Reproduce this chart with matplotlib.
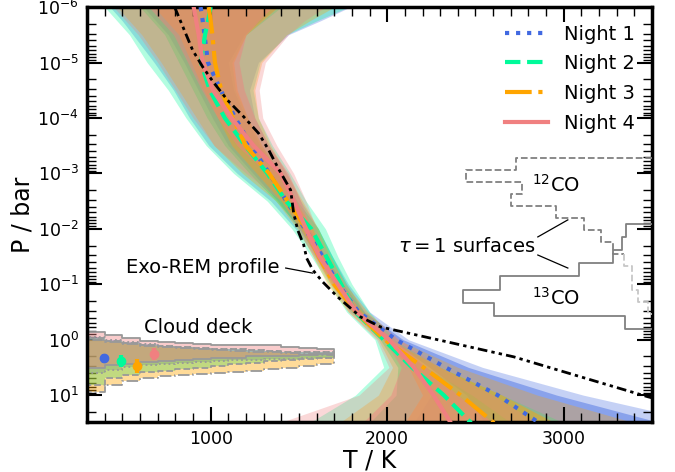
import numpy as np
import matplotlib
matplotlib.use("Agg")
import matplotlib.pyplot as plt
from matplotlib.ticker import MultipleLocator, LogLocator, NullFormatter

# ---------------------------------------------------------------------------
# Retrieved temperature-pressure profiles (T in K on a common pressure grid)
# ---------------------------------------------------------------------------
pressure = [1e-6, 1.78e-6, 3.16e-6, 1e-5, 3.16e-5, 1e-4, 3.16e-4, 1e-3, 3.16e-3,
            1e-2, 3.16e-2, 0.1, 0.316, 1.0, 3.16, 10.0, 31.6]

night_labels = ["Night 1", "Night 2", "Night 3", "Night 4"]
night_colors = ["royalblue", "mediumspringgreen", "orange", "lightcoral"]
night_styles = [":", "--", "-.", "-"]

# medians
t_med_n1 = [943, 955, 965, 985, 1057, 1140, 1228, 1332, 1429, 1534, 1634, 1723, 1838, 2050, 2330, 2625, 2860]
t_med_n2 = [1000, 985, 968, 945, 995, 1080, 1195, 1321, 1427, 1570, 1655, 1739, 1820, 1980, 2140, 2320, 2475]
t_med_n3 = [989, 1000, 1010, 1024, 1060, 1125, 1198, 1331, 1436, 1541, 1612, 1700, 1825, 1985, 2205, 2415, 2605]
t_med_n4 = [904, 918, 932, 955, 1013, 1118, 1243, 1397, 1472, 1540, 1615, 1720, 1825, 2010, 2150, 2262, 2360]

# 2-sigma (outer) and 1-sigma (inner) envelopes
t_lo2_n1 = [430, 500, 560, 680, 790, 880, 990, 1150, 1340, 1480, 1590, 1690, 1790, 1990, 2150, 2250, 2150]
t_lo1_n1 = [620, 690, 760, 850, 930, 1010, 1100, 1240, 1380, 1500, 1605, 1705, 1815, 2020, 2240, 2450, 2550]
t_hi1_n1 = [1380, 1280, 1190, 1100, 1130, 1200, 1280, 1380, 1470, 1560, 1650, 1750, 1870, 2090, 2460, 2960, 3550]
t_hi2_n1 = [1790, 1620, 1440, 1270, 1220, 1250, 1330, 1430, 1510, 1610, 1690, 1780, 1900, 2120, 2540, 3110, 3800]

t_lo2_n2 = [400, 470, 540, 640, 760, 860, 975, 1130, 1320, 1460, 1570, 1670, 1770, 1930, 1980, 1820, 1560]
t_lo1_n2 = [600, 670, 740, 820, 900, 980, 1080, 1220, 1370, 1510, 1610, 1700, 1800, 1960, 2060, 2050, 1900]
t_hi1_n2 = [1400, 1300, 1200, 1120, 1140, 1210, 1290, 1400, 1490, 1610, 1690, 1770, 1870, 2010, 2220, 2480, 2700]
t_hi2_n2 = [1780, 1600, 1430, 1280, 1240, 1270, 1350, 1450, 1540, 1650, 1720, 1800, 1900, 2040, 2300, 2650, 3000]

t_lo2_n3 = [470, 540, 610, 720, 820, 920, 1020, 1180, 1370, 1490, 1580, 1660, 1780, 1950, 2030, 1950, 1730]
t_lo1_n3 = [680, 750, 820, 890, 960, 1040, 1120, 1260, 1400, 1510, 1595, 1680, 1805, 1975, 2120, 2200, 2100]
t_hi1_n3 = [1380, 1290, 1200, 1130, 1150, 1210, 1290, 1390, 1480, 1580, 1640, 1720, 1860, 2010, 2300, 2650, 2950]
t_hi2_n3 = [1700, 1560, 1430, 1290, 1250, 1270, 1340, 1430, 1520, 1610, 1680, 1760, 1890, 2060, 2400, 2850, 3400]

t_lo2_n4 = [450, 520, 590, 700, 800, 900, 1020, 1200, 1400, 1500, 1580, 1680, 1780, 1940, 2010, 1840, 1390]
t_lo1_n4 = [650, 720, 790, 870, 950, 1040, 1150, 1320, 1440, 1520, 1600, 1700, 1805, 1980, 2080, 2020, 1860]
t_hi1_n4 = [1350, 1270, 1200, 1160, 1190, 1250, 1330, 1440, 1510, 1570, 1640, 1745, 1850, 2040, 2220, 2400, 2600]
t_hi2_n4 = [1650, 1530, 1440, 1310, 1275, 1295, 1375, 1470, 1540, 1600, 1670, 1770, 1880, 2070, 2300, 2600, 2850]

# Exo-REM self-consistent model profile
exorem_p = [1e-6, 6.0e-6, 1.2e-5, 2.3e-5, 4.8e-5, 9.5e-5, 1.9e-4, 3.8e-4, 7.8e-4, 2.0e-3,
            5.2e-3, 1.05e-2, 1.95e-2, 3.4e-2, 5.5e-2, 9.1e-2, 0.17, 0.39, 0.59, 1.10,
            2.04, 4.68, 10.7, 12.3]
exorem_t = [796, 898, 955, 1017, 1096, 1187, 1272, 1329, 1380, 1453,
            1470, 1493, 1527, 1544, 1578, 1635, 1720, 1850, 1963, 2343,
            2717, 3096, 3476, 3550]

# ---------------------------------------------------------------------------
# Cloud deck: pressure range (bar) per temperature bin for each night
# ---------------------------------------------------------------------------
cloud_t_edges = [300, 400, 500, 600, 700, 800, 900, 1000, 1100, 1200, 1300, 1400, 1500, 1600, 1700]
cloud_top_n1 = [0.90, 1.00, 1.10, 1.20, 1.30, 1.35, 1.40, 1.45, 1.50, 1.55, 1.60, 1.65, 1.65, 1.70]
cloud_bot_n1 = [4.0, 3.5, 3.1, 2.9, 2.7, 2.6, 2.5, 2.4, 2.35, 2.3, 2.25, 2.2, 2.15, 2.1]
cloud_top_n2 = [0.95, 1.05, 1.15, 1.25, 1.30, 1.35, 1.40, 1.45, 1.50, 1.55, 1.60, 1.65, 1.70, 1.70]
cloud_bot_n2 = [6.5, 5.0, 4.3, 3.9, 3.6, 3.4, 3.2, 3.0, 2.8, 2.6, 2.4, 2.3, 2.2, 2.1]
cloud_top_n3 = [1.00, 1.10, 1.20, 1.30, 1.35, 1.40, 1.50, 1.55, 1.60, 1.65, 1.70, 1.75, 1.80, 1.90]
cloud_bot_n3 = [8.8, 6.5, 5.5, 5.0, 4.6, 4.4, 4.2, 4.0, 3.8, 3.6, 3.4, 3.2, 3.0, 2.8]
cloud_top_n4 = [0.73, 0.82, 0.95, 1.05, 1.10, 1.15, 1.20, 1.25, 1.25, 1.25, 1.25, 1.35, 1.40, 1.50]
cloud_bot_n4 = [3.2, 2.9, 2.7, 2.5, 2.4, 2.3, 2.2, 2.1, 2.1, 2.0, 2.0, 1.95, 1.9, 1.85]

# cloud-top pressure estimates (median, lower, upper) plotted at offset temperatures
cloud_marker_t = [395, 490, 585, 680]
cloud_p_med = [2.15, 2.4, 3.0, 1.8]
cloud_p_lo = [1.85, 1.9, 2.2, 1.4]
cloud_p_hi = [2.6, 3.1, 4.0, 2.3]

# ---------------------------------------------------------------------------
# Distribution of tau = 1 pressures (fraction of spectral channels per bin)
# ---------------------------------------------------------------------------
co12_p_edges = [5.28e-4, 8.71e-4, 1.43e-3, 2.36e-3, 3.88e-3, 6.40e-3, 1.05e-2, 1.74e-2,
                2.86e-2, 4.71e-2, 7.76e-2, 0.128, 0.211, 0.347]
co12_frac = [0.24, 0.33, 0.23, 0.25, 0.17, 0.12, 0.09, 0.07, 0.05, 0.035, 0.035, 0.025, 0.008]
co13_p_edges = [8.18e-3, 1.41e-2, 2.41e-2, 4.14e-2, 7.10e-2, 0.127, 0.218, 0.373, 0.641]
co13_frac = [0.046, 0.053, 0.069, 0.13, 0.27, 0.335, 0.28, 0.048]
frac_to_kelvin = 3200.0

T_MIN, T_MAX = 300, 3500
P_TOP, P_BOT = 1e-6, 30.5

medians = [t_med_n1, t_med_n2, t_med_n3, t_med_n4]
bands2 = [(t_lo2_n1, t_hi2_n1), (t_lo2_n2, t_hi2_n2), (t_lo2_n3, t_hi2_n3), (t_lo2_n4, t_hi2_n4)]
bands1 = [(t_lo1_n1, t_hi1_n1), (t_lo1_n2, t_hi1_n2), (t_lo1_n3, t_hi1_n3), (t_lo1_n4, t_hi1_n4)]
cloud_tops = [cloud_top_n1, cloud_top_n2, cloud_top_n3, cloud_top_n4]
cloud_bots = [cloud_bot_n1, cloud_bot_n2, cloud_bot_n3, cloud_bot_n4]

fig = plt.figure(figsize=(6.75, 4.72), dpi=100)
ax = fig.add_axes([0.129, 0.106, 0.837, 0.879])

# uncertainty envelopes
for (lo2, hi2), (lo1, hi1), col in zip(bands2, bands1, night_colors):
    ax.fill_betweenx(pressure, lo2, hi2, color=col, alpha=0.3, lw=0, zorder=1)
    ax.fill_betweenx(pressure, lo1, hi1, color=col, alpha=0.45, lw=0, zorder=1)

# cloud deck regions
for top, bot, col, ls in zip(cloud_tops, cloud_bots, night_colors, night_styles):
    edges = np.array(cloud_t_edges, dtype=float)
    top_s = np.append(top, top[-1])
    bot_s = np.append(bot, bot[-1])
    ax.fill_between(edges, top_s, bot_s, step="post", color=col, alpha=0.4, lw=0, zorder=2)
    ox = np.concatenate([[edges[0]], np.repeat(edges, 2)[1:-1], [edges[-1]],
                         np.repeat(edges, 2)[1:-1][::-1], [edges[0]]])
    oy = np.concatenate([[bot_s[0]], np.repeat(top, 2), [bot_s[-1]],
                         np.repeat(bot, 2)[::-1], [top_s[0]]])
    ax.plot(ox, oy, color="0.6", ls=ls, lw=1.3, zorder=2.5)

for t, pm, plo, phi, col in zip(cloud_marker_t, cloud_p_med, cloud_p_lo, cloud_p_hi, night_colors):
    ax.errorbar([t], [pm], yerr=[[pm - plo], [phi - pm]], fmt="o", color=col,
                ms=6, elinewidth=3, capsize=0, zorder=4)

# median profiles
for med, col, ls, lab in zip(medians, night_colors, night_styles, night_labels):
    ax.plot(med, pressure, color=col, ls=ls, lw=3, label=lab, zorder=3)

# Exo-REM model
ax.plot(exorem_t, exorem_p, color="black", lw=2,
        ls=(0, (3.5, 1.5, 1.2, 1.5, 1.2, 1.5)), zorder=3.5)

# tau = 1 histograms drawn inward from the right axis
def hist_outline(edges, frac):
    xs, ys = [T_MAX], [edges[0]]
    for i, f in enumerate(frac):
        x = T_MAX - f * frac_to_kelvin
        xs += [x, x]
        ys += [edges[i], edges[i + 1]]
    xs.append(T_MAX)
    ys.append(edges[-1])
    return xs, ys

x12, y12 = hist_outline(co12_p_edges, co12_frac)
split = 2 * 8 + 1
ax.plot(x12[:split + 1], y12[:split + 1], color="0.5", ls="--", lw=1.3, zorder=5)
ax.plot(x12[split:], y12[split:], color="0.78", ls="--", lw=1.3, zorder=5)
x13, y13 = hist_outline(co13_p_edges, co13_frac)
ax.plot(x13, y13, color="0.5", ls="-", lw=1.3, zorder=5)

# annotations
ax.text(2955, 1.6e-3, r"$^{12}$CO", fontsize=14, ha="center", va="center", zorder=6)
ax.text(2955, 0.178, r"$^{13}$CO", fontsize=14, ha="center", va="center", zorder=6)
ax.text(2840, 2.1e-2, r"$\tau = 1$ surfaces", fontsize=14, ha="right", va="center", zorder=6)
ax.plot([2853, 3023], [1.4e-2, 6.9e-3], color="black", lw=0.9, zorder=6)
ax.plot([2853, 3023], [2.97e-2, 5.1e-2], color="black", lw=0.9, zorder=6)
ax.text(1391, 4.9e-2, "Exo-REM profile", fontsize=14, ha="right", va="center", zorder=6)
ax.plot([1425, 1578], [5.1e-2, 6.3e-2], color="black", lw=0.9, zorder=6)
ax.text(620, 0.615, "Cloud deck", fontsize=14, ha="left", va="center", zorder=6)

# axes styling
ax.set_xlim(T_MIN, T_MAX)
ax.set_yscale("log")
ax.set_ylim(P_BOT, P_TOP)
ax.xaxis.set_major_locator(MultipleLocator(1000))
ax.xaxis.set_minor_locator(MultipleLocator(100))
ax.yaxis.set_major_locator(LogLocator(base=10, numticks=20))
ax.yaxis.set_minor_locator(LogLocator(base=10, subs=np.arange(2, 10), numticks=20))
ax.yaxis.set_minor_formatter(NullFormatter())
ax.tick_params(which="both", direction="in", top=True, right=True, labelsize=12.5)
ax.tick_params(which="major", length=11, width=1.5, pad=6)
ax.tick_params(which="minor", length=6.5, width=1.0)
for sp in ax.spines.values():
    sp.set_linewidth(2.5)

ax.set_xlabel("T / K", fontsize=17, labelpad=0)
ax.set_ylabel("P / bar", fontsize=17, labelpad=2)

leg = ax.legend(loc="upper right", frameon=False, fontsize=14, handlelength=2.2,
                borderaxespad=0.5, labelspacing=0.55)

fig.savefig("out.png", dpi=100)
